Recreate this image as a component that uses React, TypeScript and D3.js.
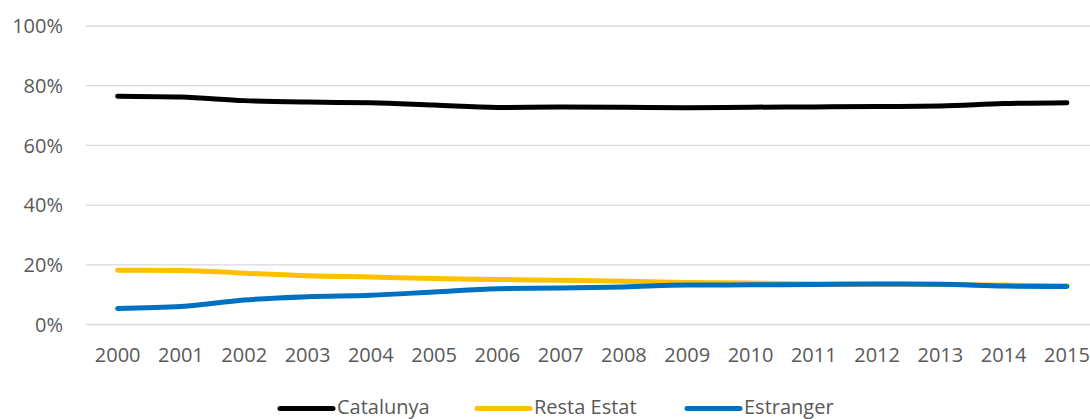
import React from "react";
import * as d3 from "d3";

const years = ["2000","2001","2002","2003","2004","2005","2006","2007","2008","2009","2010","2011","2012","2013","2014","2015"];
const catalunya = [76.5, 76.2, 75.0, 74.5, 74.3, 73.5, 72.7, 72.9, 72.8, 72.6, 72.8, 72.9, 73.0, 73.2, 74.0, 74.3];
const restaEstat = [18.2, 18.1, 17.2, 16.3, 15.9, 15.4, 15.1, 14.8, 14.5, 14.1, 13.9, 13.6, 13.5, 13.4, 13.2, 13.0];
const estranger = [5.4, 6.0, 8.2, 9.3, 9.8, 10.9, 12.0, 12.2, 12.6, 13.2, 13.3, 13.4, 13.6, 13.5, 12.9, 12.7];
const yTicks = [0, 20, 40, 60, 80, 100];
const seriesNames = ["Catalunya", "Resta Estat", "Estranger"];
const seriesColors = ["#000000", "#FFC000", "#0070C0"];

const W = 1090, H = 419;
const left = 86, right = 1098.6, top = 26, bottom = 324.5;
const font = "'Open Sans', 'Liberation Sans', sans-serif";

export default function App() {
  const x = d3.scaleBand<string>().domain(years).range([left, right]);
  const cx = (d: string) => (x(d) as number) + x.bandwidth() / 2;
  const y = d3.scaleLinear().domain([0, 100]).range([bottom, top]);
  const data = [catalunya, restaEstat, estranger];
  const line = d3.line<number>().x((_, i) => cx(years[i])).y((v) => y(v)).curve(d3.curveMonotoneX);
  const legendX = [280, 477, 687];
  const legendY = 408.5;
  return (
    <svg width={W} height={H} style={{ position: "absolute", left: 0, top: 0, display: "block", background: "#fff" }}>
      {yTicks.map((t) => (
        <g key={t}>
          <line x1={left} x2={W} y1={y(t)} y2={y(t)} stroke="#d9d9d9" strokeWidth={1.3} />
          <text x={63} y={y(t)} dy="0.36em" textAnchor="end" fontFamily={font} fontSize={20} fill="#595959">{t}%</text>
        </g>
      ))}
      {years.map((yr) => (
        <text key={yr} x={cx(yr)} y={362} textAnchor="middle" fontFamily={font} fontSize={20} fill="#595959">{yr}</text>
      ))}
      {data.map((s, i) => (
        <path key={i} d={line(s) as string} fill="none" stroke={seriesColors[i]} strokeWidth={5} strokeLinecap="round" strokeLinejoin="round" />
      ))}
      {seriesNames.map((n, i) => (
        <g key={n}>
          <line x1={legendX[i]} x2={legendX[i] + 53} y1={legendY} y2={legendY} stroke={seriesColors[i]} strokeWidth={5} strokeLinecap="round" />
          <text x={legendX[i] + 57} y={413.5} fontFamily={font} fontSize={20} fill="#595959">{n}</text>
        </g>
      ))}
    </svg>
  );
}
